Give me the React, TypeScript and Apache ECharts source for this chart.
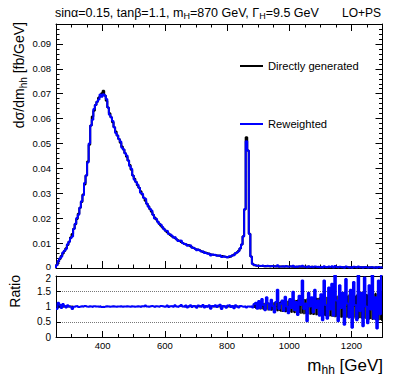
import React, { useEffect, useRef } from 'react';
import * as echarts from 'echarts';

// ---------- data (5 GeV bins starting at 250 GeV) ----------
const binStart = 250;
const binWidth = 5;

// Directly generated dσ/dm_hh [fb/GeV]
const direct = [
  0.0012, 0.0025, 0.0036, 0.0048, 0.0058, 0.0068, 0.0079, 0.0092, 0.0105, 0.0122,
  0.0137, 0.0158, 0.0176, 0.0197, 0.0218, 0.0242, 0.0265, 0.0295, 0.0335, 0.0372,
  0.0428, 0.0495, 0.0572, 0.0608, 0.0632, 0.0655, 0.0668, 0.0684, 0.0690, 0.0702,
  0.0712, 0.0693, 0.0672, 0.0645, 0.0622, 0.0605, 0.0585, 0.0565, 0.0548, 0.0532,
  0.0518, 0.0503, 0.0488, 0.0476, 0.0461, 0.0447, 0.0432, 0.0414, 0.0395, 0.0372,
  0.0358, 0.0345, 0.0332, 0.0322, 0.0308, 0.0295, 0.0282, 0.0270, 0.0258, 0.0248,
  0.0236, 0.0226, 0.0214, 0.0203, 0.0195, 0.0186, 0.0178, 0.0170, 0.0163, 0.0157,
  0.0150, 0.0144, 0.0139, 0.0133, 0.0128, 0.0124, 0.0120, 0.0115, 0.0111, 0.0108,
  0.0104, 0.0100, 0.0097, 0.0094, 0.0092, 0.0091, 0.0087, 0.0083, 0.0080, 0.0077,
  0.0074, 0.0072, 0.0070, 0.0067, 0.0064, 0.0062, 0.0060, 0.0058, 0.0056, 0.0054,
  0.0053, 0.0052, 0.0051, 0.0050, 0.0049, 0.0048, 0.0048, 0.0046, 0.0045, 0.0044,
  0.0043, 0.0045, 0.0047, 0.0050, 0.0054, 0.0058, 0.0063, 0.0069, 0.0078, 0.0094,
  0.0128, 0.0235, 0.0525, 0.0472, 0.0138, 0.0046, 0.0017, 0.0011, 0.0009, 0.0009,
  0.0008, 0.0008, 0.0008, 0.0007, 0.0008, 0.0007, 0.0007, 0.0007, 0.0007, 0.0007,
  0.0007, 0.0006, 0.0007, 0.0006, 0.0006, 0.0006, 0.0006, 0.0006, 0.0006, 0.0006,
  0.0006, 0.0005, 0.0006, 0.0005, 0.0005, 0.0005, 0.0005, 0.0005, 0.0005, 0.0005,
  0.0005, 0.0005, 0.0005, 0.0004, 0.0005, 0.0004, 0.0004, 0.0004, 0.0004, 0.0004,
  0.0004, 0.0004, 0.0004, 0.0004, 0.0004, 0.0004, 0.0004, 0.0004, 0.0003, 0.0004,
  0.0003, 0.0004, 0.0003, 0.0003, 0.0003, 0.0003, 0.0003, 0.0003, 0.0003, 0.0003,
  0.0003, 0.0003, 0.0003, 0.0003, 0.0003, 0.0003, 0.0003, 0.0003, 0.0002, 0.0003,
  0.0003, 0.0002, 0.0003, 0.0002, 0.0002, 0.0003, 0.0002, 0.0002, 0.0002, 0.0002,
];

// Reweighted / Directly generated
const ratio = [
  0.92, 1.12, 1.06, 0.95, 1.08, 1.02, 0.97, 1.04, 1.00, 0.98,
  0.92, 0.99, 1.01, 1.02, 0.98, 1.00, 1.01, 0.99, 1.02, 1.00,
  0.99, 1.01, 1.00, 0.98, 1.01, 1.00, 1.00, 0.99, 1.01, 0.98,
  0.98, 1.00, 1.01, 1.00, 0.99, 1.00, 1.01, 1.00, 0.99, 1.00,
  1.00, 1.01, 0.99, 1.00, 1.00, 1.01, 1.00, 0.99, 1.01, 1.00,
  0.99, 1.00, 1.01, 1.00, 0.98, 1.01, 1.00, 1.03, 1.00, 0.99,
  1.01, 1.02, 1.00, 0.98, 1.01, 1.00, 0.99, 1.02, 1.01, 0.99,
  1.00, 1.03, 0.98, 1.01, 1.02, 0.99, 1.04, 1.00, 0.98, 1.02,
  1.05, 1.00, 0.99, 1.03, 0.97, 1.01, 1.04, 0.98, 1.02, 1.00,
  0.96, 1.03, 1.01, 0.99, 1.05, 0.97, 1.02, 0.99, 1.04, 0.93,
  1.02, 1.00, 1.04, 0.98, 1.03, 1.06, 0.92, 1.02, 1.00, 0.96,
  1.03, 1.05, 0.98, 1.02, 0.94, 1.04, 1.00, 0.97, 1.02, 1.00,
  0.99, 1.01, 0.97, 1.00, 0.99, 1.01, 0.97, 1.08, 1.12, 0.93,
  1.18, 0.95, 1.25, 1.05, 0.88, 1.30, 1.10, 0.90, 1.22, 1.02,
  0.80, 1.15, 1.55, 0.92, 1.08, 1.20, 0.85, 1.32, 1.00, 0.78,
  1.25, 0.95, 1.48, 0.88, 1.15, 0.72, 1.35, 1.05, 1.85, 0.92,
  1.10, 0.52, 1.45, 1.00, 1.30, 0.80, 1.55, 0.95, 1.20, 0.70,
  1.40, 0.55, 1.85, 1.05, 0.60, 1.62, 0.90, 1.75, 0.70, 2.05,
  1.20, 0.52, 1.70, 0.95, 1.45, 0.40, 1.90, 1.10, 0.65, 1.55,
  0.30, 1.80, 1.05, 0.55, 2.10, 0.85, 1.45, 0.35, 1.95, 1.00,
  0.45, 1.70, 0.90, 2.10, 0.60, 1.30, 0.28, 1.85, 0.75, 2.05,
];

// statistical half-width of the directly generated sample, relative
const ratioErr = [
  0.08, 0.06, 0.05, 0.04, 0.04, 0.03, 0.03, 0.03, 0.03, 0.03,
  0.03, 0.02, 0.02, 0.02, 0.02, 0.02, 0.02, 0.02, 0.02, 0.02,
  0.02, 0.02, 0.02, 0.02, 0.02, 0.02, 0.02, 0.02, 0.02, 0.02,
  0.02, 0.02, 0.02, 0.02, 0.02, 0.02, 0.02, 0.02, 0.02, 0.02,
  0.02, 0.02, 0.02, 0.02, 0.02, 0.02, 0.02, 0.02, 0.02, 0.02,
  0.02, 0.02, 0.02, 0.02, 0.02, 0.02, 0.02, 0.02, 0.02, 0.02,
  0.02, 0.02, 0.02, 0.02, 0.02, 0.02, 0.02, 0.02, 0.02, 0.02,
  0.02, 0.02, 0.02, 0.02, 0.02, 0.02, 0.02, 0.02, 0.02, 0.02,
  0.02, 0.02, 0.02, 0.03, 0.02, 0.03, 0.02, 0.03, 0.02, 0.03,
  0.03, 0.02, 0.03, 0.03, 0.02, 0.03, 0.03, 0.03, 0.02, 0.03,
  0.03, 0.03, 0.03, 0.03, 0.03, 0.03, 0.03, 0.03, 0.03, 0.03,
  0.03, 0.03, 0.03, 0.03, 0.03, 0.03, 0.03, 0.03, 0.02, 0.02,
  0.02, 0.02, 0.02, 0.02, 0.02, 0.02, 0.03, 0.05, 0.07, 0.08,
  0.09, 0.10, 0.09, 0.11, 0.12, 0.10, 0.13, 0.12, 0.14, 0.13,
  0.15, 0.14, 0.16, 0.15, 0.17, 0.18, 0.16, 0.19, 0.18, 0.20,
  0.19, 0.21, 0.20, 0.22, 0.21, 0.23, 0.22, 0.24, 0.23, 0.25,
  0.24, 0.26, 0.25, 0.27, 0.26, 0.28, 0.27, 0.29, 0.28, 0.30,
  0.29, 0.31, 0.30, 0.32, 0.31, 0.33, 0.32, 0.34, 0.33, 0.35,
  0.34, 0.36, 0.35, 0.37, 0.36, 0.38, 0.37, 0.36, 0.39, 0.37,
  0.38, 0.40, 0.36, 0.39, 0.41, 0.38, 0.40, 0.42, 0.39, 0.41,
  0.40, 0.43, 0.41, 0.44, 0.42, 0.45, 0.43, 0.46, 0.44, 0.47,
];

const xMajorTicks = [400, 600, 800, 1000, 1200];
const xMin = 250;
const xMax = 1300;
const yMainMax = 0.098;
const ratioMax = 2;

const FONT = '"Liberation Sans", Arial, Helvetica, sans-serif';
const AX = '#000';
const BLUE = '#0000ff';

const edges = direct.map((_, i) => binStart + i * binWidth);
const xEnd = binStart + direct.length * binWidth;
const reweighted = direct.map((v, i) => v * ratio[i]);

function stepData(vals: number[], startZero: boolean) {
  const pts: number[][] = [];
  if (startZero) pts.push([edges[0], 0]);
  vals.forEach((v, i) => pts.push([edges[i], v]));
  pts.push([xEnd, vals[vals.length - 1]]);
  return pts;
}

const bandData = ratioErr.map((e, i) => [edges[i], edges[i] + binWidth, 1 - e, 1 + e]);

export default function App() {
  const ref = useRef<HTMLDivElement>(null);
  useEffect(() => {
    if (!ref.current) return;
    const chart = echarts.init(ref.current, undefined, { renderer: 'svg' });
    const lineAx = { show: true, onZero: false, lineStyle: { color: AX, width: 1 } };
    const noLine = { show: false, onZero: false };
    const xBase = (grid: number, pos: string) => ({
      type: 'value', gridIndex: grid, min: xMin, max: xMax, position: pos,
      splitLine: { show: false },
    });
    const option: any = {
      animation: false,
      backgroundColor: '#fff',
      grid: [
        { left: 56, top: 24, width: 326.5, height: 244 },
        { left: 56, top: 276, width: 326.5, height: 61 },
      ],
      xAxis: [
        { ...xBase(0, 'bottom'), axisLine: lineAx, axisLabel: { show: false },
          axisTick: { show: true, inside: true, length: 7, customValues: xMajorTicks, lineStyle: { color: AX } } },
        { ...xBase(0, 'bottom'), interval: 50, axisLine: noLine, axisLabel: { show: false },
          axisTick: { show: true, inside: true, length: 3.5, lineStyle: { color: AX } } },
        { ...xBase(0, 'top'), axisLine: lineAx, axisLabel: { show: false },
          axisTick: { show: true, inside: true, length: 7, customValues: xMajorTicks, lineStyle: { color: AX } } },
        { ...xBase(0, 'top'), interval: 50, axisLine: noLine, axisLabel: { show: false },
          axisTick: { show: true, inside: true, length: 3.5, lineStyle: { color: AX } } },
        { ...xBase(1, 'bottom'), axisLine: lineAx,
          axisLabel: { show: true, customValues: xMajorTicks, fontSize: 9.5, fontFamily: FONT, color: '#000', margin: 3,
            formatter: (v: number) => String(v) },
          axisTick: { show: true, inside: true, length: 6, customValues: xMajorTicks, lineStyle: { color: AX } } },
        { ...xBase(1, 'bottom'), interval: 50, axisLine: noLine, axisLabel: { show: false },
          axisTick: { show: true, inside: true, length: 3, lineStyle: { color: AX } } },
        { ...xBase(1, 'top'), axisLine: lineAx, axisLabel: { show: false }, axisTick: { show: false } },
      ],
      yAxis: [
        { type: 'value', gridIndex: 0, min: 0, max: yMainMax, interval: 0.01, position: 'left',
          axisLine: lineAx, splitLine: { show: false },
          axisTick: { show: true, inside: true, length: 7, lineStyle: { color: AX } },
          minorTick: { show: true, splitNumber: 5, length: 3.5, lineStyle: { color: AX } },
          axisLabel: { show: true, fontSize: 9.5, fontFamily: FONT, color: '#000', margin: 5, showMaxLabel: false,
            formatter: (v: number) => (v === 0 ? '{z|0}' : v.toFixed(2)),
            rich: { z: { fontSize: 9.5, fontFamily: FONT, color: '#000', padding: [0, 0, 4, 0] } } } },
        { type: 'value', gridIndex: 0, min: 0, max: yMainMax, interval: 0.01, position: 'right',
          axisLine: lineAx, splitLine: { show: false }, axisLabel: { show: false },
          axisTick: { show: true, inside: true, length: 7, lineStyle: { color: AX } },
          minorTick: { show: true, splitNumber: 5, length: 3.5, lineStyle: { color: AX } } },
        { type: 'value', gridIndex: 1, min: 0, max: ratioMax, interval: 0.5, position: 'left',
          axisLine: lineAx,
          splitLine: { show: true, lineStyle: { type: 'dotted', color: '#777', width: 1 } },
          axisTick: { show: true, inside: true, length: 5, lineStyle: { color: AX } },
          axisLabel: { show: true, fontSize: 10, fontFamily: FONT, color: '#000', margin: 5,
            formatter: (v: number) => (v === ratioMax ? '{t|2}' : String(v)),
            rich: { t: { fontSize: 10, fontFamily: FONT, color: '#000', padding: [4, 0, 0, 0] } } } },
        { type: 'value', gridIndex: 1, min: 0, max: ratioMax, interval: 0.5, position: 'right',
          axisLine: lineAx, splitLine: { show: false }, axisLabel: { show: false },
          axisTick: { show: true, inside: true, length: 5, lineStyle: { color: AX } } },
      ],
      legend: [
        { data: ['Directly generated'], left: 240, top: 59, orient: 'vertical', icon: 'rect',
          itemWidth: 23, itemHeight: 2, padding: 0, selectedMode: false,
          textStyle: { fontSize: 11.2, fontFamily: FONT, color: '#000', lineHeight: 14 } },
        { data: ['Reweighted'], left: 240, top: 117, orient: 'vertical', icon: 'rect',
          itemWidth: 23, itemHeight: 2, padding: 0, selectedMode: false,
          textStyle: { fontSize: 11.2, fontFamily: FONT, color: '#000', lineHeight: 14 } },
      ],
      series: [
        { type: 'line', name: 'Directly generated', xAxisIndex: 0, yAxisIndex: 0, step: 'end',
          data: stepData(direct, true), symbol: 'none', showSymbol: false,
          color: '#000', lineStyle: { color: '#000', width: 2 }, itemStyle: { color: '#000' }, z: 2 },
        { type: 'line', name: 'Reweighted', xAxisIndex: 0, yAxisIndex: 0, step: 'end',
          data: stepData(reweighted, true), symbol: 'none', showSymbol: false,
          color: BLUE, lineStyle: { color: BLUE, width: 2 }, itemStyle: { color: BLUE }, z: 3 },
        { type: 'custom', name: 'ratioBand', xAxisIndex: 4, yAxisIndex: 2, clip: true,
          data: bandData, encode: { x: [0, 1], y: [2, 3] }, z: 2,
          renderItem: (_p: any, api: any) => {
            const a = api.coord([api.value(0), api.value(3)]);
            const b = api.coord([api.value(1), api.value(2)]);
            return { type: 'rect', shape: { x: a[0], y: a[1], width: b[0] - a[0], height: b[1] - a[1] },
              style: { fill: '#000' } };
          } },
        { type: 'line', name: 'ratioLine', xAxisIndex: 4, yAxisIndex: 2, step: 'end', clip: true,
          data: stepData(ratio, false), symbol: 'none', showSymbol: false,
          lineStyle: { color: BLUE, width: 2 }, itemStyle: { color: BLUE }, z: 3 },
      ],
      graphic: [
        { type: 'text', x: 55, y: 6, z: 10,
          style: {
            text: '{m|sinα=0.15, tanβ=1.1, m}{s|H}{m|=870 GeV, Γ}{s|H}{m|=9.5 GeV}',
            fill: '#000', font: `12.5px ${FONT}`,
            rich: {
              m: { fontSize: 12.5, fontFamily: FONT, lineHeight: 14, verticalAlign: 'top', fill: '#000' },
              s: { fontSize: 9, fontFamily: FONT, lineHeight: 10, padding: [13, 0, 0, 0], verticalAlign: 'bottom', fill: '#000' },
            },
          } },
        { type: 'text', x: 381, y: 6, z: 10,
          style: { text: 'LO+PS', fill: '#000', font: `12px ${FONT}`, align: 'right', verticalAlign: 'top',
            lineHeight: 14 } },
        { type: 'text', x: 20, y: 22, rotation: Math.PI / 2, z: 10,
          style: {
            text: '{m|dσ/dm}{s|hh}{m| [fb/GeV]}', align: 'right', verticalAlign: 'middle', fill: '#000',
            font: `14px ${FONT}`,
            rich: {
              m: { fontSize: 14, fontFamily: FONT, lineHeight: 16, verticalAlign: 'top', fill: '#000' },
              s: { fontSize: 10, fontFamily: FONT, lineHeight: 11, padding: [10, 0, 0, 0], verticalAlign: 'bottom', fill: '#000' },
            },
          } },
        { type: 'text', x: 15, y: 275, rotation: Math.PI / 2, z: 10,
          style: { text: 'Ratio', align: 'right', verticalAlign: 'middle', fill: '#000', font: `14px ${FONT}` } },
        { type: 'text', x: 383, y: 357, z: 10,
          style: {
            text: '{m|m}{s|hh}{m| [GeV]}', align: 'right', verticalAlign: 'top', fill: '#000',
            font: `17px ${FONT}`,
            rich: {
              m: { fontSize: 17, fontFamily: FONT, lineHeight: 19, verticalAlign: 'top', fill: '#000' },
              s: { fontSize: 12, fontFamily: FONT, lineHeight: 13, padding: [10, 0, 0, 0], verticalAlign: 'bottom', fill: '#000' },
            },
          } },
      ],
    };
    chart.setOption(option);
    return () => chart.dispose();
  }, []);
  return (
    <div
      ref={ref}
      style={{ position: 'fixed', left: 0, top: 0, width: 399, height: 383, background: '#fff' }}
    />
  );
}
